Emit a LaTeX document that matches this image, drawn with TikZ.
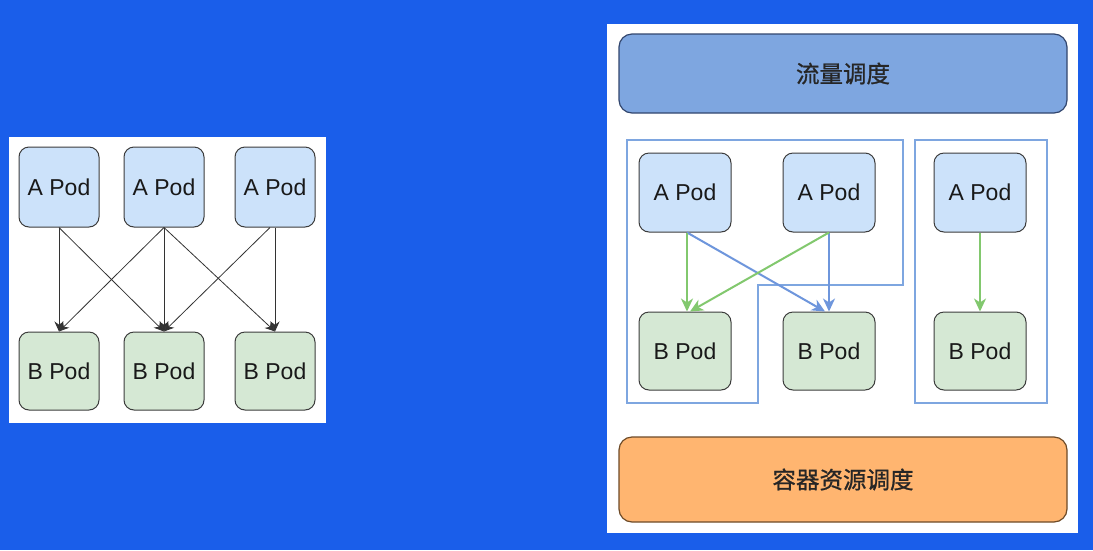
\documentclass[tikz,border=0pt]{standalone}
\usepackage{fontspec}
\setmainfont{Liberation Sans}
\newfontfamily\cjk[FakeBold=0.9]{Noto Sans CJK SC}
\usetikzlibrary{arrows.meta}
\definecolor{bgblue}{RGB}{26,94,234}
\definecolor{podA}{RGB}{204,226,250}
\definecolor{podB}{RGB}{213,232,212}
\definecolor{podline}{RGB}{60,60,60}
\definecolor{topfill}{RGB}{126,166,224}
\definecolor{topline}{RGB}{50,70,110}
\definecolor{botfill}{RGB}{255,181,112}
\definecolor{botline}{RGB}{110,75,40}
\definecolor{grpline}{RGB}{126,166,224}
\definecolor{garrow}{RGB}{130,200,110}
\definecolor{barrow}{RGB}{110,150,220}
\tikzset{
  pod/.style={draw=podline, line width=1pt, rounded corners=10pt, font=\fontsize{23}{23}\selectfont, text=black!90},
  apodL/.style={pod, fill=podA, minimum width=80pt, minimum height=80pt},
  bpodL/.style={pod, fill=podB, minimum width=80pt, minimum height=78pt},
  apodR/.style={pod, fill=podA, minimum width=92pt, minimum height=79pt},
  bpodR/.style={pod, fill=podB, minimum width=92pt, minimum height=78pt},
  bar/.style={line width=1.2pt, rounded corners=13pt, minimum width=448pt, font=\cjk\fontsize{23.5}{23.5}\selectfont, text=black!85},
  blk/.style={draw=black!80, line width=0.8pt, -{Stealth[length=10pt,width=9pt]}},
  grn/.style={draw=garrow, line width=2pt, -{Stealth[length=13pt,width=12pt,inset=4pt]}},
  blu/.style={draw=barrow, line width=2pt, -{Stealth[length=13pt,width=12pt,inset=4pt]}},
  grp/.style={draw=grpline, line width=1.6pt}
}
\begin{document}
\begin{tikzpicture}[x=1pt,y=-1pt]
\useasboundingbox (0,0) rectangle (1093,550);
\fill[bgblue] (0,0) rectangle (1093,550);
% left panel
\fill[white] (9,137) rectangle (326,423);
\node[apodL] (la1) at (59,187) {A Pod};
\node[apodL] (la2) at (164,187) {A Pod};
\node[apodL] (la3) at (275,187) {A Pod};
\node[bpodL] (lb1) at (59,371) {B Pod};
\node[bpodL] (lb2) at (164,371) {B Pod};
\node[bpodL] (lb3) at (275,371) {B Pod};
\draw[blk] (la1.south) -- (lb1.north);
\draw[blk] (la1.south) -- (lb2.north);
\draw[blk] (la2.south) -- (lb1.north);
\draw[blk] (la2.south) -- (lb2.north);
\draw[blk] (la2.south) -- (lb3.north);
\draw[blk] ([xshift=-5pt]la3.south) -- (lb2.north);
\draw[blk] (la3.south) -- (lb3.north);
% right panel
\fill[white] (607,24) rectangle (1078,533);
\node[bar, draw=topline, fill=topfill, minimum height=79pt] (traffic) at (843,73.5) {流量调度};
\node[bar, draw=botline, fill=botfill, minimum height=85pt] (res) at (843,479.5) {容器资源调度};
\draw[grp] (627,140) -- (903,140) -- (903,285) -- (758,285) -- (758,403) -- (627,403) -- cycle;
\draw[grp] (915,140) rectangle (1047,403);
\node[apodR] (ra1) at (685,192.5) {A Pod};
\node[apodR] (ra2) at (829,192.5) {A Pod};
\node[apodR] (ra3) at (980,192.5) {A Pod};
\node[bpodR] (rb1) at (685,351) {B Pod};
\node[bpodR] (rb2) at (829,351) {B Pod};
\node[bpodR] (rb3) at (980,351) {B Pod};
\draw[blu] ([xshift=2pt]ra1.south) -- ([xshift=-4pt]rb2.north);
\draw[blu] (ra2.south) -- (rb2.north);
\draw[grn] ([xshift=2pt]ra1.south) -- ([xshift=2pt]rb1.north);
\draw[grn] (ra2.south) -- ([xshift=5pt]rb1.north);
\draw[grn] (ra3.south) -- (rb3.north);
\end{tikzpicture}
\end{document}
